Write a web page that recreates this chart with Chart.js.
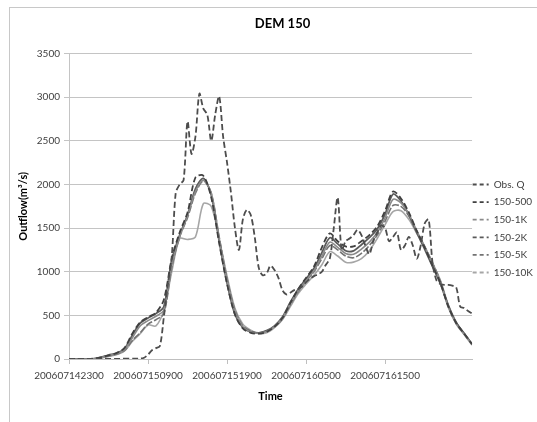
<!DOCTYPE html>
<html>
<head>
<meta charset="utf-8">
<script src="https://cdn.jsdelivr.net/npm/chart.js@4.4.1/dist/chart.umd.min.js"></script>
<style>
  html, body { margin: 0; padding: 0; background: #ffffff; }
  #wrap { position: relative; width: 537px; height: 422px; overflow: hidden; }
  #frame { position: absolute; left: 9px; top: 7px; width: 700px; height: 600px;
           border-left: 1px solid #c8c8c8; border-top: 1px solid #c8c8c8; }
  #c { position: absolute; left: 0; top: 0; }
</style>
</head>
<body>
<div id="wrap">
  <div id="frame"></div>
  <canvas id="c" width="537" height="422"></canvas>
</div>
<script>
// ---- data (hours after 2006-07-14 23:00) ----
const xTickHours = [0, 10, 20, 30, 40];
const xTickLabels = ["200607142300", "200607150900", "200607151900", "200607160500", "200607161500"];
const yTicks = [0, 500, 1000, 1500, 2000, 2500, 3000, 3500];

const modelHours = [0,1,2,3,4,5,6,7,8,9,10,11,12,13,14,15,16,17,18,19,20,21,22,23,24,25,26,27,28,29,30,31,32,33,34,35,36,37,38,39,40,41,42,43,44,45,46,47,48,49,50,51];

const obsHours = [0,9,9.5,10,10.5,11,11.5,12,12.5,13,13.5,14,14.5,15,15.5,16,16.5,17,17.5,18,18.5,19,19.5,20,20.5,21,21.5,22,22.5,23,23.5,24,24.5,25,25.5,26,26.5,27,27.5,28,28.5,29,29.5,30,30.5,31,31.5,32,32.5,33,33.5,34,34.5,35,35.5,36,36.5,37,37.5,38,38.5,39,39.5,40,40.5,41,41.5,42,42.5,43,43.5,44,44.5,45,45.5,46,46.5,47,47.5,48,48.5,49,49.5,50,50.5,51];
const obsQ = [0,5,15,50,100,125,150,480,850,1170,1900,2000,2050,2720,2350,2550,3040,2870,2800,2500,2800,3010,2550,2250,1900,1500,1250,1600,1710,1650,1400,1050,960,980,1070,1020,930,790,740,760,790,800,830,880,920,950,970,1000,1080,1150,1500,1850,1250,1350,1380,1420,1480,1420,1300,1200,1350,1450,1530,1500,1350,1400,1450,1250,1300,1400,1300,1150,1300,1550,1600,1100,900,860,850,850,840,820,600,585,550,520];

const q500 = [0,0,0,3,18,42,68,125,290,420,480,530,680,1150,1450,1680,2080,2100,1850,1330,860,510,350,300,290,310,370,470,640,800,930,1060,1280,1440,1350,1290,1290,1350,1420,1520,1700,1920,1840,1680,1470,1280,1070,870,600,410,290,170];
const q1K  = [0,0,0,2,15,40,60,105,240,380,440,490,560,1080,1400,1640,1920,2050,1900,1380,900,540,370,310,295,315,370,470,630,780,900,1010,1180,1340,1280,1210,1200,1260,1340,1450,1620,1830,1790,1660,1470,1290,1090,880,590,400,280,160];
const q2K  = [0,0,0,2,20,45,65,115,270,410,470,520,600,1130,1420,1650,1950,2070,1880,1350,870,510,360,310,300,325,380,480,650,800,920,1040,1220,1390,1320,1240,1240,1310,1390,1490,1660,1890,1810,1650,1450,1260,1060,860,610,415,295,170];
const q5K  = [0,0,0,1,12,35,55,95,210,300,400,450,520,1050,1400,1620,1900,2040,1900,1400,920,560,380,320,300,320,370,460,620,770,890,1000,1150,1300,1250,1180,1160,1210,1300,1420,1580,1760,1750,1640,1460,1290,1100,890,610,420,290,170];
const q10K = [0,0,0,1,10,30,50,90,200,290,390,380,560,1000,1380,1370,1400,1780,1750,1380,950,580,400,330,290,300,360,450,600,750,860,960,1080,1230,1180,1110,1110,1150,1240,1380,1540,1690,1700,1600,1440,1280,1100,900,620,420,290,170];

const seriesNames = ["Obs. Q", "150-500", "150-1K", "150-2K", "150-5K", "150-10K"];

function pts(xs, ys) { return xs.map((x, i) => ({ x: x, y: ys[i] })); }

const FONT = "Lato, 'Open Sans', sans-serif";
Chart.defaults.font.family = FONT;
Chart.defaults.color = "#404040";

const ds = (label, xs, ys, color, dash, width) => ({
  label: label,
  data: pts(xs, ys),
  borderColor: color,
  backgroundColor: color,
  borderWidth: width,
  borderDash: dash,
  pointRadius: 0,
  tension: 0.3,
  fill: false
});

// nudge the legend block to sit where the reference has it
const legendNudge = {
  id: "legendNudge",
  afterLayout(chart) {
    const lg = chart.legend;
    if (!lg) return;
    const dx = -7, dy = 27;
    lg.left += dx; lg.right += dx;
    lg.top += dy; lg.bottom += dy;
  }
};

new Chart(document.getElementById("c"), {
  type: "line",
  data: {
    datasets: [
      ds(seriesNames[0], obsHours, obsQ, "#4d4d4d", [6, 3], 1.8),
      ds(seriesNames[1], modelHours, q500, "#404040", [6, 3], 1.8),
      ds(seriesNames[2], modelHours, q1K, "#8a8a8a", [], 1.6),
      ds(seriesNames[3], modelHours, q2K, "#5a5a5a", [], 1.8),
      ds(seriesNames[4], modelHours, q5K, "#737373", [7, 2], 1.6),
      ds(seriesNames[5], modelHours, q10K, "#a6a6a6", [], 1.6)
    ]
  },
  plugins: [legendNudge],
  options: {
    responsive: false,
    devicePixelRatio: 1,
    animation: false,
    layout: { padding: { left: 15, right: -13, top: 0, bottom: 19 } },
    plugins: {
      title: {
        display: true,
        text: "DEM 150",
        color: "#000000",
        font: { family: FONT, size: 13, weight: "bold" },
        padding: { top: 16, bottom: 22 }
      },
      legend: {
        position: "right",
        align: "center",
        labels: {
          usePointStyle: true,
          pointStyle: "line",
          pointStyleWidth: 16,
          boxHeight: 10,
          padding: 7.6,
          color: "#404040",
          font: { family: FONT, size: 10 },
          generateLabels: function (chart) {
            const items = Chart.defaults.plugins.legend.labels.generateLabels(chart);
            items.forEach(it => { it.lineDash = [4, 3]; it.lineWidth = 1.8; it.pointStyle = "line"; });
            return items;
          }
        }
      },
      tooltip: { enabled: false }
    },
    scales: {
      x: {
        type: "linear",
        min: 0,
        max: 51,
        afterFit: s => { s.height = 44; },
        afterBuildTicks: s => { s.ticks = xTickHours.map(v => ({ value: v })); },
        ticks: {
          autoSkip: false,
          maxRotation: 0,
          padding: 6,
          color: "#404040",
          font: { family: FONT, size: 10 },
          callback: (v) => { const i = xTickHours.indexOf(v); return i >= 0 ? xTickLabels[i] : ""; }
        },
        grid: { drawOnChartArea: false, drawTicks: true, tickLength: 5, color: "#bfbfbf" },
        border: { display: true, color: "#bfbfbf" },
        title: { display: true, text: "Time", color: "#000000", font: { family: FONT, size: 11, weight: "bold" }, padding: { top: 4, bottom: 0 } }
      },
      y: {
        min: 0,
        max: 3500,
        afterFit: s => { s.width = 54; },
        afterBuildTicks: s => { s.ticks = yTicks.map(v => ({ value: v })); },
        ticks: { padding: 4, color: "#404040", font: { family: FONT, size: 10 }, callback: v => String(v) },
        grid: { color: "#c4c4c4", tickLength: 5, drawTicks: true },
        border: { display: true, color: "#c4c4c4" },
        title: { display: true, text: "Outflow(m³/s)", color: "#000000", font: { family: FONT, size: 11, weight: "bold" }, padding: { top: 2, bottom: 0 } }
      }
    }
  }
});
</script>
</body>
</html>
